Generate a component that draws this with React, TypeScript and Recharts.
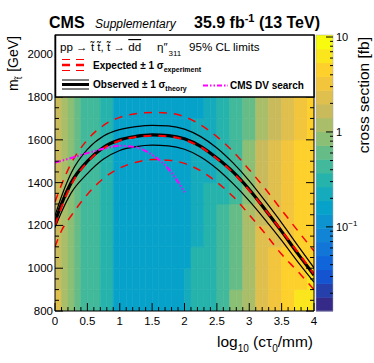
import React from "react";
import { ComposedChart, Line, XAxis, YAxis, ReferenceArea } from "recharts";

// log10(ctau0/mm) bin edges and mass bin edges of the limit map
const lifetimeEdges = [
  0, 0.1, 0.2, 0.3, 0.4, 0.5, 0.6, 0.7, 0.8, 0.9, 1, 1.1, 1.2, 1.3, 1.4, 1.5, 1.6, 1.7, 1.8, 1.9, 2,
  2.1, 2.2, 2.3, 2.4, 2.5, 2.6, 2.7, 2.8, 2.9, 3, 3.1, 3.2, 3.3, 3.4, 3.5, 3.6, 3.7, 3.8, 3.9, 4,
];
const massEdges = [800, 900, 1000, 1100, 1200, 1300, 1400, 1500, 1600, 1700, 1800];

// observed cross section upper limit [fb], one array per mass bin
const xsec800 = [2.4, 1.2, 0.88, 0.62, 0.46, 0.45, 0.44, 0.31, 0.3, 0.17, 0.16, 0.16, 0.16, 0.16, 0.16, 0.16, 0.16, 0.17, 0.17, 0.17, 0.22, 0.29, 0.3, 0.33, 0.34, 0.42, 0.44, 0.78, 0.8, 1.2, 1.25, 2.3, 2.4, 3.1, 3.3, 4.3, 4.6, 6.0, 6.4, 7.0];
const xsec900 = [1.7, 1.15, 0.85, 0.6, 0.45, 0.44, 0.43, 0.31, 0.3, 0.16, 0.16, 0.16, 0.16, 0.16, 0.16, 0.16, 0.16, 0.16, 0.17, 0.16, 0.2, 0.28, 0.29, 0.32, 0.33, 0.42, 0.43, 0.7, 0.72, 1.15, 1.2, 2.2, 2.3, 3.0, 3.2, 4.2, 4.4, 5.0, 5.2, 6.5];
const xsec1000 = [1.7, 1.15, 0.85, 0.6, 0.45, 0.44, 0.43, 0.3, 0.29, 0.16, 0.16, 0.16, 0.16, 0.16, 0.16, 0.16, 0.16, 0.16, 0.16, 0.16, 0.18, 0.28, 0.28, 0.31, 0.32, 0.41, 0.42, 0.66, 0.68, 1.1, 1.15, 2.15, 2.2, 2.95, 3.0, 4.1, 4.2, 4.9, 5.1, 5.2];
const xsec1100 = [1.65, 1.1, 0.85, 0.6, 0.44, 0.43, 0.42, 0.3, 0.29, 0.16, 0.16, 0.16, 0.16, 0.16, 0.16, 0.16, 0.16, 0.16, 0.16, 0.16, 0.17, 0.22, 0.23, 0.3, 0.31, 0.4, 0.41, 0.62, 0.64, 1.08, 1.1, 2.1, 2.15, 2.5, 2.6, 3.4, 3.6, 4.8, 4.9, 5.2];
const xsec1200 = [1.65, 1.1, 0.84, 0.6, 0.44, 0.43, 0.42, 0.3, 0.29, 0.16, 0.16, 0.16, 0.16, 0.16, 0.16, 0.16, 0.16, 0.16, 0.16, 0.16, 0.16, 0.22, 0.22, 0.29, 0.3, 0.39, 0.4, 0.58, 0.6, 1.06, 1.08, 1.8, 1.9, 2.4, 2.5, 3.3, 3.4, 4.6, 4.7, 5.0];
const xsec1300 = [1.6, 1.1, 0.84, 0.6, 0.43, 0.42, 0.42, 0.29, 0.28, 0.16, 0.15, 0.15, 0.16, 0.15, 0.15, 0.15, 0.15, 0.16, 0.15, 0.15, 0.15, 0.21, 0.22, 0.29, 0.3, 0.35, 0.36, 0.48, 0.5, 0.95, 1.0, 1.7, 1.8, 2.3, 2.4, 3.2, 3.3, 4.5, 4.6, 4.9];
const xsec1400 = [1.6, 1.1, 0.83, 0.6, 0.43, 0.42, 0.41, 0.29, 0.28, 0.15, 0.15, 0.15, 0.15, 0.15, 0.15, 0.15, 0.15, 0.15, 0.15, 0.15, 0.15, 0.21, 0.21, 0.24, 0.25, 0.34, 0.35, 0.46, 0.48, 0.9, 0.92, 1.6, 1.65, 2.2, 2.3, 3.1, 3.2, 4.4, 4.5, 4.8];
const xsec1500 = [1.6, 1.1, 0.83, 0.59, 0.42, 0.42, 0.41, 0.29, 0.28, 0.15, 0.15, 0.15, 0.15, 0.15, 0.14, 0.14, 0.14, 0.15, 0.15, 0.15, 0.15, 0.2, 0.21, 0.24, 0.24, 0.33, 0.34, 0.44, 0.46, 0.85, 0.88, 1.55, 1.6, 2.1, 2.2, 3.0, 3.1, 4.2, 4.3, 4.7];
const xsec1600 = [1.55, 1.08, 0.82, 0.59, 0.42, 0.41, 0.41, 0.28, 0.28, 0.15, 0.15, 0.15, 0.15, 0.15, 0.14, 0.14, 0.14, 0.15, 0.15, 0.15, 0.15, 0.2, 0.2, 0.23, 0.24, 0.31, 0.32, 0.42, 0.44, 0.7, 0.72, 1.3, 1.35, 1.7, 1.8, 2.3, 2.4, 3.3, 3.5, 4.5];
const xsec1700 = [1.55, 1.08, 0.82, 0.58, 0.41, 0.41, 0.4, 0.28, 0.27, 0.15, 0.15, 0.15, 0.15, 0.15, 0.14, 0.14, 0.14, 0.15, 0.15, 0.15, 0.15, 0.17, 0.18, 0.22, 0.23, 0.3, 0.31, 0.41, 0.42, 0.65, 0.68, 1.2, 1.25, 1.6, 1.7, 2.2, 2.3, 3.1, 3.2, 4.3];
const xsecRows = [xsec800, xsec900, xsec1000, xsec1100, xsec1200, xsec1300, xsec1400, xsec1500, xsec1600, xsec1700];

// mass limit contours vs log10(ctau0/mm)
const contourLifetime = [0, 0.1, 0.25, 0.5, 0.75, 1, 1.25, 1.5, 1.75, 2, 2.25, 2.5, 2.75, 3, 3.25, 3.5, 3.75, 4];
const observed = [1215, 1300, 1400, 1500, 1565, 1600, 1616, 1623, 1620, 1605, 1570, 1515, 1450, 1368, 1272, 1172, 1068, 968];
const observedUp = [1245, 1335, 1445, 1555, 1618, 1648, 1662, 1668, 1665, 1650, 1615, 1562, 1492, 1408, 1312, 1212, 1106, 1002];
const observedDown = [1190, 1262, 1352, 1442, 1510, 1550, 1568, 1575, 1572, 1556, 1520, 1465, 1395, 1315, 1225, 1130, 1030, 935];
const expected = [1200, 1285, 1390, 1495, 1560, 1596, 1613, 1619, 1616, 1600, 1566, 1512, 1446, 1364, 1272, 1175, 1075, 972];
const expectedUp = [1310, 1390, 1490, 1600, 1668, 1705, 1722, 1728, 1725, 1708, 1670, 1615, 1545, 1460, 1370, 1272, 1175, 1080];
const expectedDown = [1100, 1175, 1245, 1345, 1420, 1468, 1495, 1508, 1505, 1490, 1455, 1402, 1335, 1250, 1160, 1065, 985, 900];

// earlier CMS displaced vertex search
const dvLifetime = [0, 0.25, 0.5, 0.75, 1, 1.25, 1.5, 1.75, 2];
const dvMass = [1494, 1515, 1538, 1558, 1572, 1565, 1530, 1465, 1355];

const lifetimeTicks = lifetimeEdges;
const massTicks = [800, 850, 900, 950, 1000, 1050, 1100, 1150, 1200, 1250, 1300, 1350, 1400, 1450, 1500, 1550, 1600, 1650, 1700, 1750, 1800, 1850, 1900, 1950, 2000, 2050];

const zMin = 0.013;
const zMax = 10.5;
const nBands = 20;

// ROOT kBird palette
const bird = [
  [0.2082, 0.1664, 0.5293], [0.0592, 0.3599, 0.8684], [0.078, 0.5041, 0.8385],
  [0.0232, 0.6419, 0.7914], [0.1802, 0.7178, 0.6425], [0.5301, 0.7492, 0.4662],
  [0.8186, 0.7328, 0.3499], [0.9956, 0.7862, 0.1968], [0.9764, 0.9832, 0.0539],
];

function palette(f: number) {
  const t = Math.min(Math.max(f, 0), 1) * (bird.length - 1);
  const i = Math.min(Math.floor(t), bird.length - 2);
  const a = t - i;
  const c = bird[i].map((v, k) => Math.round(255 * (v + (bird[i + 1][k] - v) * a)));
  return `rgb(${c[0]},${c[1]},${c[2]})`;
}

function bandOf(z: number) {
  const f = (Math.log10(z) - Math.log10(zMin)) / (Math.log10(zMax) - Math.log10(zMin));
  return Math.min(nBands - 1, Math.max(0, Math.floor(f * nBands)));
}

const colorOf = (z: number) => palette(bandOf(z) / (nBands - 1));

const contourData = contourLifetime.map((x, i) => ({
  x,
  observed: observed[i],
  observedUp: observedUp[i],
  observedDown: observedDown[i],
  expected: expected[i],
  expectedUp: expectedUp[i],
  expectedDown: expectedDown[i],
}));
const dvData = dvLifetime.map((x, i) => ({ x, dv: dvMass[i] }));

const font = "'Liberation Sans', Arial, Helvetica, sans-serif";

const LifetimeTick = (props: any) => {
  const { x, y, payload } = props;
  const v = payload.value;
  const major = Math.abs(v * 2 - Math.round(v * 2)) < 1e-6;
  return (
    <g>
      <line x1={x} x2={x} y1={y} y2={y - (major ? 8 : 4)} stroke="#000" />
      {major && (
        <text x={x} y={y + 14} textAnchor="middle" fontSize={11.5} fill="#000">
          {String(Math.round(v * 10) / 10)}
        </text>
      )}
    </g>
  );
};

const MassTick = (props: any) => {
  const { x, y, payload } = props;
  const v = payload.value;
  const major = v % 200 === 0;
  return (
    <g>
      <line x1={x} x2={x + (major ? 8 : 4)} y1={y} y2={y} stroke="#000" />
      {major && (
        <text x={x - 2} y={y + 4} textAnchor="end" fontSize={11.5} fill="#000">
          {v}
        </text>
      )}
    </g>
  );
};

const RightTick = (props: any) => {
  const { x, y, payload } = props;
  const major = payload.value % 200 === 0;
  return <line x1={x} x2={x - (major ? 8 : 4)} y1={y} y2={y} stroke="#000" />;
};

// colour bar geometry
const barX = 316;
const barW = 17;
const barTop = 35;
const barBottom = 311;
const barY = (z: number) =>
  barBottom - ((Math.log10(z) - Math.log10(zMin)) / (Math.log10(zMax) - Math.log10(zMin))) * (barBottom - barTop);
const barMinor = [0.02, 0.03, 0.04, 0.05, 0.06, 0.07, 0.08, 0.09, 0.2, 0.3, 0.4, 0.5, 0.6, 0.7, 0.8, 0.9, 2, 3, 4, 5, 6, 7, 8, 9];
const barMajor = [0.1, 1, 10];

function Overlay() {
  const bandH = (barBottom - barTop) / nBands;
  return (
    <svg width={374} height={363} style={{ position: "absolute", left: 0, top: 0, pointerEvents: "none" }}>
      {/* title */}
      <text x={49} y={28} fontSize={16} fontWeight="bold">CMS</text>
      <text x={95} y={28} fontSize={12} fontStyle="italic">Supplementary</text>
      <text x={194} y={28} fontSize={16} fontWeight="bold">
        35.9 fb<tspan fontSize={11} dy={-6}>-1</tspan>
        <tspan dy={6}> (13 TeV)</tspan>
      </text>

      {/* legend */}
      <rect x={55.5} y={35} width={258.5} height={62} fill="#fff" stroke="#000" strokeWidth={1.5} />
      <text x={60} y={51} fontSize={11.6}>
        pp → t̃ t̃, t̃ → <tspan style={{ textDecoration: "overline" }}>dd</tspan>
      </text>
      <text x={157} y={51} fontSize={11.6}>
        η″<tspan fontSize={8} dx={1} dy={5}>311</tspan>
      </text>
      <text x={189} y={51} fontSize={11.6}>95% CL limits</text>

      <line x1={62} x2={89} y1={59.5} y2={59.5} stroke="#ff0000" strokeWidth={1.2} strokeDasharray="8 6" />
      <line x1={62} x2={89} y1={65} y2={65} stroke="#ff0000" strokeWidth={2.5} strokeDasharray="8 6" />
      <line x1={62} x2={89} y1={70.5} y2={70.5} stroke="#ff0000" strokeWidth={1.2} strokeDasharray="8 6" />
      <text x={93} y={68.5} fontSize={10} fontWeight="bold">
        Expected ± 1 σ<tspan fontSize={7} dy={3}>experiment</tspan>
      </text>

      <line x1={62} x2={89} y1={80} y2={80} stroke="#000" strokeWidth={1} />
      <line x1={62} x2={89} y1={84.5} y2={84.5} stroke="#000" strokeWidth={3} />
      <line x1={62} x2={89} y1={89} y2={89} stroke="#000" strokeWidth={1} />
      <text x={93} y={88} fontSize={10} fontWeight="bold">
        Observed ± 1 σ<tspan fontSize={7} dy={3}>theory</tspan>
      </text>
      <line x1={203} x2={228} y1={85.5} y2={85.5} stroke="#ff00ff" strokeWidth={2} strokeDasharray="5 2 1.5 2 1.5 2" />
      <text x={230} y={88.5} fontSize={10} fontWeight="bold">CMS DV search</text>

      {/* colour bar */}
      {Array.from({ length: nBands }, (_, k) => (
        <rect
          key={k}
          x={barX}
          y={barBottom - (k + 1) * bandH}
          width={barW}
          height={bandH + 0.5}
          fill={palette(k / (nBands - 1))}
        />
      ))}
      <rect x={barX} y={barTop} width={barW} height={barBottom - barTop} fill="none" stroke="#aaa" strokeWidth={0.5} />
      {barMinor.map((z) => (
        <line key={z} x1={barX + barW} x2={barX + barW - 3} y1={barY(z)} y2={barY(z)} stroke="#000" />
      ))}
      {barMajor.map((z) => (
        <line key={z} x1={barX + barW} x2={barX + barW - 7} y1={barY(z)} y2={barY(z)} stroke="#000" />
      ))}
      <text x={336} y={barY(10) + 4} fontSize={11}>10</text>
      <text x={336} y={barY(1) + 4} fontSize={11}>1</text>
      <text x={336} y={barY(0.1) + 4} fontSize={11}>
        10<tspan fontSize={8} dy={-5}>−1</tspan>
      </text>
      <text transform="translate(369, 37) rotate(-90)" textAnchor="end" fontSize={15.5}>
        cross section [fb]
      </text>

      {/* axis titles */}
      <text transform="translate(18, 36) rotate(-90)" textAnchor="end" fontSize={14}>
        m<tspan fontSize={9} dy={4}>t̃</tspan>
        <tspan dy={-4} dx={5}>[GeV]</tspan>
      </text>
      <text x={313} y={347} textAnchor="end" fontSize={15.5}>
        log<tspan fontSize={10} dy={5}>10</tspan>
        <tspan dy={-5}> (cτ</tspan>
        <tspan fontSize={10} dy={5}>0</tspan>
        <tspan dy={-5}>/mm)</tspan>
      </text>
    </svg>
  );
}

export default function App() {
  return (
    <div style={{ position: "absolute", left: 0, top: 0, width: 374, height: 363, background: "#fff", fontFamily: font }}>
      <ComposedChart
        width={374}
        height={363}
        data={contourData}
        margin={{ top: 35, right: 0, bottom: 0, left: 0 }}
      >
        {xsecRows.map((row, r) =>
          row.map((z, c) => (
            <ReferenceArea
              key={`${r}-${c}`}
              x1={lifetimeEdges[c]}
              x2={lifetimeEdges[c + 1]}
              y1={massEdges[r]}
              y2={massEdges[r + 1]}
              fill={colorOf(z)}
              fillOpacity={1}
              stroke={colorOf(z)}
              strokeWidth={0.6}
              ifOverflow="hidden"
            />
          ))
        )}
        <XAxis
          dataKey="x"
          type="number"
          domain={[0, 4]}
          ticks={lifetimeTicks}
          interval={0}
          height={52}
          tickSize={0}
          tickMargin={0}
          tickLine={false}
          tick={<LifetimeTick />}
          axisLine={{ stroke: "#000" }}
          allowDataOverflow
        />
        <YAxis
          type="number"
          domain={[800, 2090]}
          ticks={massTicks}
          interval={0}
          width={55}
          tickSize={0}
          tickMargin={0}
          tickLine={false}
          tick={<MassTick />}
          axisLine={{ stroke: "#000" }}
          allowDataOverflow
        />
        <YAxis
          yAxisId="right"
          orientation="right"
          type="number"
          domain={[800, 2090]}
          ticks={massTicks}
          interval={0}
          width={60}
          tickSize={0}
          tickMargin={0}
          tickLine={false}
          tick={<RightTick />}
          axisLine={{ stroke: "#000" }}
          allowDataOverflow
        />
        <Line type="monotone" dataKey="expectedUp" stroke="#ff0000" strokeWidth={1.5} strokeDasharray="8 7" dot={false} isAnimationActive={false} />
        <Line type="monotone" dataKey="expectedDown" stroke="#ff0000" strokeWidth={1.5} strokeDasharray="8 7" dot={false} isAnimationActive={false} />
        <Line type="monotone" dataKey="observedUp" stroke="#000" strokeWidth={1.2} dot={false} isAnimationActive={false} />
        <Line type="monotone" dataKey="observedDown" stroke="#000" strokeWidth={1.2} dot={false} isAnimationActive={false} />
        <Line type="monotone" dataKey="observed" stroke="#000" strokeWidth={3.2} dot={false} isAnimationActive={false} />
        <Line type="monotone" dataKey="expected" stroke="#ff0000" strokeWidth={2} strokeDasharray="8 7" dot={false} isAnimationActive={false} />
        <Line
          data={dvData}
          type="monotone"
          dataKey="dv"
          stroke="#ff00ff"
          strokeWidth={2}
          strokeDasharray="6 2 1.5 2 1.5 2"
          dot={false}
          isAnimationActive={false}
        />
      </ComposedChart>
      <Overlay />
    </div>
  );
}
